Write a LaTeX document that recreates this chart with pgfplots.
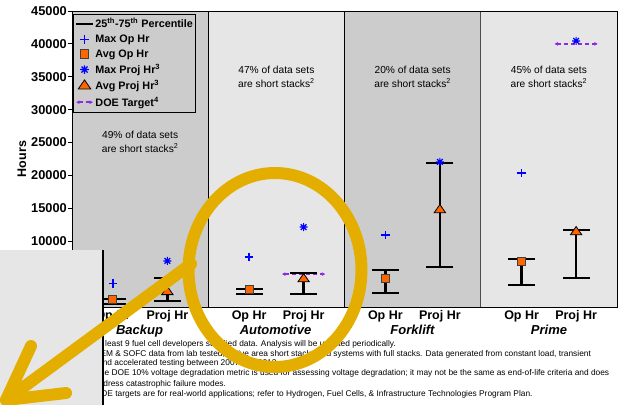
\documentclass[border=0pt]{standalone}
\usepackage{pgfplots}
\pgfplotsset{compat=1.18}
\usepackage{pgfplotstable}
\usepackage{fontspec}
\setmainfont{Liberation Sans}
\usetikzlibrary{arrows.meta}

\definecolor{panelD}{RGB}{204,204,204}
\definecolor{panelL}{RGB}{230,230,230}
\definecolor{maxblue}{RGB}{0,0,255}
\definecolor{avgorange}{RGB}{255,102,0}
\definecolor{doepurple}{RGB}{140,40,230}
\definecolor{hilite}{RGB}{228,174,0}
\definecolor{cover}{RGB}{230,230,230}

% 8-spoke star (Excel style asterisk)
\pgfdeclareplotmark{star8}{%
  \pgfpathmoveto{\pgfqpoint{-\pgfplotmarksize}{0pt}}\pgfpathlineto{\pgfqpoint{\pgfplotmarksize}{0pt}}%
  \pgfpathmoveto{\pgfqpoint{0pt}{-\pgfplotmarksize}}\pgfpathlineto{\pgfqpoint{0pt}{\pgfplotmarksize}}%
  \pgfpathmoveto{\pgfqpoint{-0.707\pgfplotmarksize}{-0.707\pgfplotmarksize}}\pgfpathlineto{\pgfqpoint{0.707\pgfplotmarksize}{0.707\pgfplotmarksize}}%
  \pgfpathmoveto{\pgfqpoint{-0.707\pgfplotmarksize}{0.707\pgfplotmarksize}}\pgfpathlineto{\pgfqpoint{0.707\pgfplotmarksize}{-0.707\pgfplotmarksize}}%
  \pgfusepathqstroke}

% 25th-75th percentile ranges
\pgfplotstableread{
x   lo    hi
0.3 500   1250
0.7 900   4400
1.3 1950  2700
1.7 2000  5200
2.3 2150  5600
2.7 6100  21900
3.3 3350  7300
3.7 4400  11700
}\pctl

\pgfplotstableread{
x   y
0.3 1100
1.3 2650
2.3 4400
3.3 7000
}\avgop

\pgfplotstableread{
x   y
0.7 2300
1.7 4250
2.7 14750
3.7 11400
}\avgproj

\pgfplotstableread{
x   y
0.3 3600
1.3 7600
2.3 10950
3.3 20350
}\maxop

\pgfplotstableread{
x   y
0.7 7000
1.7 12150
2.7 22050
3.7 40450
}\maxproj

\begin{document}
\begin{tikzpicture}[x=1pt,y=1pt]
\useasboundingbox (0,0) rectangle (625,405);
\clip (0,0) rectangle (625,405);

\begin{axis}[
  at={(72pt,98pt)}, anchor=south west,
  width=545pt, height=296pt, scale only axis,
  xmin=0, xmax=4, ymin=0, ymax=45000,
  axis on top,
  axis line style={black, line width=0.8pt},
  ytick={0,5000,...,45000},
  xtick={0.3,0.7,1.3,1.7,2.3,2.7,3.3,3.7},
  xticklabels={Op Hr,Proj Hr,Op Hr,Proj Hr,Op Hr,Proj Hr,Op Hr,Proj Hr},
  x tick style={draw=none},
  ytick pos=left, tick align=outside, major tick length=4pt,
  y tick style={black, line width=0.8pt},
  /pgf/number format/assume math mode=true,
  /pgf/number format/1000 sep={},
  scaled y ticks=false,
  yticklabel style={font=\bfseries\fontsize{12.8}{14}\selectfont, inner sep=1pt},
  xticklabel style={font=\bfseries\fontsize{12.5}{14}\selectfont, yshift=4pt},
  ylabel={Hours},
  ylabel style={font=\bfseries\fontsize{12.5}{14}\selectfont, at={(axis description cs:-0.092,0.5)}, anchor=center},
  legend cell align=left,
  legend style={at={(0.002,0.99)}, anchor=north west, fill=panelD, draw=black,
    font=\bfseries\fontsize{10.8}{12}\selectfont,
    nodes={inner sep=1.2pt}, row sep=3.2pt, inner xsep=1.5pt, inner ysep=3pt},
]
% panel backgrounds
\addplot[forget plot, fill=panelD, draw=none] coordinates {(0,45000) (1,45000)} \closedcycle;
\addplot[forget plot, fill=panelL, draw=none] coordinates {(1,45000) (2,45000)} \closedcycle;
\addplot[forget plot, fill=panelD, draw=none] coordinates {(2,45000) (3,45000)} \closedcycle;
\addplot[forget plot, fill=panelL, draw=none] coordinates {(3,45000) (4,45000)} \closedcycle;
\addplot[forget plot, black, line width=0.8pt] coordinates {(1,0) (1,45000)};
\addplot[forget plot, black, line width=0.8pt] coordinates {(2,0) (2,45000)};
\addplot[forget plot, black!70, line width=1.5pt] coordinates {(3,0) (3,45000)};

% legend images
\addlegendimage{black, line width=2.4pt}
\addlegendentry{25\textsuperscript{th}-75\textsuperscript{th} Percentile}
\addlegendimage{only marks, mark=+, maxblue, mark size=4.5pt, mark options={line width=1.3pt}}
\addlegendentry{Max Op Hr}
\addlegendimage{only marks, mark=square*, mark size=4.2pt, mark options={fill=avgorange, draw=black!75, line width=0.8pt}}
\addlegendentry{Avg Op Hr}
\addlegendimage{only marks, mark=star8, maxblue, mark size=4.3pt, mark options={line width=1.2pt}}
\addlegendentry{Max Proj Hr\textsuperscript{3}}
\addlegendimage{only marks, mark=triangle*, mark size=6pt, mark options={fill=avgorange, draw=black, line width=0.8pt, xscale=1.2}}
\addlegendentry{Avg Proj Hr\textsuperscript{3}}
\addlegendimage{doepurple, line width=2pt, dash pattern=on 4pt off 3pt, {Latex[length=3.5pt,width=4pt]}-{Latex[length=3.5pt,width=4pt]}}
\addlegendentry{DOE Target\textsuperscript{4}}

% percentile bars
\addplot[forget plot, draw=none, mark=none,
  error bars/.cd, y dir=plus, y explicit, error mark=none,
  error bar style={black, line width=2.4pt}]
  table[x=x, y=lo, y error expr=\thisrow{hi}-\thisrow{lo}] {\pctl};
\addplot[forget plot, only marks, black, mark=-, mark size=13.5pt, mark options={line width=2.4pt}]
  table[x=x, y=lo] {\pctl};
\addplot[forget plot, only marks, black, mark=-, mark size=13.5pt, mark options={line width=2.4pt}]
  table[x=x, y=hi] {\pctl};

% DOE targets
\addplot[forget plot, doepurple, line width=2pt, dash pattern=on 4pt off 3pt,
  {Latex[length=3.5pt,width=4pt]}-{Latex[length=3.5pt,width=4pt]}] coordinates {(1.54,5000) (1.86,5000)};
\addplot[forget plot, doepurple, line width=2pt, dash pattern=on 4pt off 3pt,
  {Latex[length=3.5pt,width=4pt]}-{Latex[length=3.5pt,width=4pt]}] coordinates {(3.54,40000) (3.86,40000)};

% markers
\addplot[forget plot, only marks, mark=square*, mark size=4pt, mark options={fill=avgorange, draw=black!75, line width=0.8pt}] table {\avgop};
\addplot[forget plot, only marks, mark=triangle*, mark size=5.5pt, mark options={fill=avgorange, draw=black, line width=0.8pt, xscale=1.2}] table {\avgproj};
\addplot[forget plot, only marks, mark=+, maxblue, mark size=4.2pt, mark options={line width=1.3pt}] table {\maxop};
\addplot[forget plot, only marks, mark=star8, maxblue, mark size=4pt, mark options={line width=1.2pt}] table {\maxproj};

% panel notes
\node[font=\fontsize{10.2}{14}\selectfont, align=center] at (axis cs:0.5,25100) {49\% of data sets\\are short stacks\textsuperscript{2}};
\node[font=\fontsize{10.2}{14}\selectfont, align=center] at (axis cs:1.5,35050) {47\% of data sets\\are short stacks\textsuperscript{2}};
\node[font=\fontsize{10.2}{14}\selectfont, align=center] at (axis cs:2.5,35050) {20\% of data sets\\are short stacks\textsuperscript{2}};
\node[font=\fontsize{10.2}{14}\selectfont, align=center] at (axis cs:3.5,35050) {45\% of data sets\\are short stacks\textsuperscript{2}};
\end{axis}

% application names
\begin{scope}[every node/.style={anchor=base, font=\bfseries\itshape\fontsize{13}{15}\selectfont}]
\node at (139.5,70) {Backup};
\node at (275.5,70) {Automotive};
\node at (412.5,70) {Forklift};
\node at (549,70) {Prime};
\end{scope}

% footnotes
\begin{scope}[every node/.style={anchor=base west, inner sep=0pt, font=\fontsize{8.35}{10}\selectfont}]
\node at (91,58) {\textsuperscript{1}At least 9 fuel cell developers supplied data. Analysis will be updated periodically.};
\node at (91,48) {\textsuperscript{2}PEM \& SOFC data from lab tested, active area short stacks and systems with full stacks. Data generated from constant load, transient};
\node at (98,39) {and accelerated testing between 2007 and 2012.};
\node at (91,29) {\textsuperscript{3}The DOE 10\% voltage degradation metric is used for assessing voltage degradation; it may not be the same as end-of-life criteria and does};
\node at (80,19) {not address catastrophic failure modes.};
\node at (91,9) {\textsuperscript{4}DOE targets are for real-world applications; refer to Hydrogen, Fuel Cells, \& Infrastructure Technologies Program Plan.};
\end{scope}

% screenshot overlays
\fill[cover] (0,0) rectangle (102,155);
\draw[black, line width=2.5pt] (103.2,0) -- (103.2,155);
\draw[hilite, line width=12pt] (275,135) ellipse [x radius=86.5, y radius=97];
\draw[hilite, line width=12pt, line cap=round] (191,141) -- (6,5);
\draw[hilite, line width=12pt, line cap=round, line join=round] (31,59) -- (6,5) -- (66,12);
\end{tikzpicture}
\end{document}
